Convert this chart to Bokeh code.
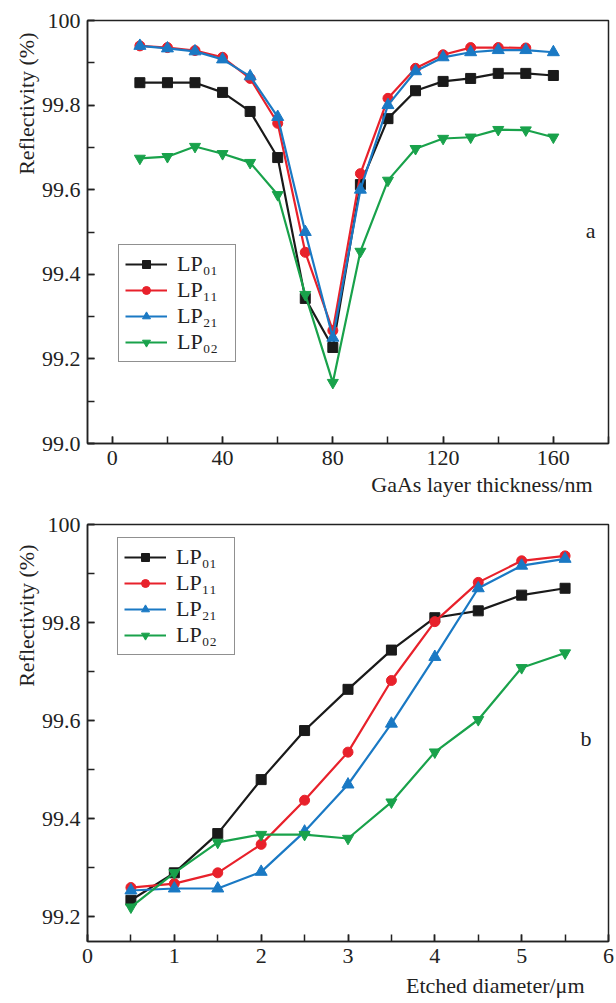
from bokeh.plotting import figure
from bokeh.layouts import column
from bokeh.models import SingleIntervalTicker, CustomJSTickFormatter, Title, Label
from bokeh.embed import file_html
from bokeh.resources import INLINE

# ---------------- data: panel a ----------------
thickness_nm = [10, 20, 30, 40, 50, 60, 70, 80, 90, 100, 110, 120, 130, 140, 150, 160]
a_lp01 = [99.853, 99.853, 99.853, 99.830, 99.785, 99.676, 99.343, 99.227, 99.612, 99.768,
          99.834, 99.856, 99.863, 99.875, 99.875, 99.870]
a_lp11 = [99.940, 99.936, 99.929, 99.913, 99.863, 99.757, 99.452, 99.267, 99.638, 99.816,
          99.887, 99.919, 99.936, 99.936, 99.935]
a_lp21 = [99.940, 99.934, 99.927, 99.908, 99.868, 99.772, 99.500, 99.250, 99.600, 99.800,
          99.880, 99.913, 99.925, 99.930, 99.930, 99.925]
a_lp02 = [99.674, 99.678, 99.702, 99.685, 99.664, 99.588, 99.352, 99.144, 99.454, 99.622,
          99.697, 99.721, 99.724, 99.742, 99.741, 99.724]

# ---------------- data: panel b ----------------
diameter_um = [0.5, 1.0, 1.5, 2.0, 2.5, 3.0, 3.5, 4.0, 4.5, 5.0, 5.5]
b_lp01 = [99.234, 99.290, 99.370, 99.480, 99.580, 99.664, 99.744, 99.810, 99.824, 99.856, 99.870]
b_lp11 = [99.260, 99.268, 99.290, 99.348, 99.438, 99.536, 99.682, 99.802, 99.882, 99.926, 99.936]
b_lp21 = [99.254, 99.258, 99.258, 99.292, 99.374, 99.470, 99.594, 99.730, 99.870, 99.916, 99.930]
b_lp02 = [99.220, 99.290, 99.352, 99.368, 99.368, 99.360, 99.434, 99.536, 99.602, 99.708, 99.738]

labels = ["LP\u2080\u2081", "LP\u2081\u2081", "LP\u2082\u2081", "LP\u2080\u2082"]
colors = ["#1a1a1a", "#e8212b", "#1a79c4", "#19a24b"]
markers = ["square", "circle", "triangle", "inverted_triangle"]
msizes = [10, 10, 12, 11]

FONT = "Liberation Serif"
INK = "#222222"


def style(p, xint, yint):
    p.grid.visible = False
    p.outline_line_color = INK
    p.outline_line_width = 1.5
    p.background_fill_color = "white"
    p.border_fill_color = "white"
    p.xaxis.ticker = SingleIntervalTicker(interval=xint, num_minor_ticks=2)
    p.yaxis.ticker = SingleIntervalTicker(interval=yint, num_minor_ticks=2)
    p.yaxis.formatter = CustomJSTickFormatter(
        code="return tick > 99.95 ? '100' : tick.toFixed(1);")
    for ax in (p.xaxis[0], p.yaxis[0]):
        ax.major_tick_in = 7
        ax.major_tick_out = 0
        ax.minor_tick_in = 7
        ax.minor_tick_out = 0
        ax.axis_line_color = INK
        ax.axis_line_width = 1.5
        ax.major_tick_line_color = INK
        ax.major_tick_line_width = 1.5
        ax.minor_tick_line_color = INK
        ax.minor_tick_line_width = 1.5
        ax.major_label_text_font = FONT
        ax.major_label_text_font_size = "22px"
        ax.major_label_text_color = INK
        ax.major_label_standoff = 7


def add_series(p, xs, series):
    for ys, lab, col, mk, ms in zip(series, labels, colors, markers, msizes):
        xx = xs[:len(ys)]
        p.line(xx, ys, line_color=col, line_width=2.2, legend_label=lab)
        p.scatter(xx, ys, marker=mk, size=ms, fill_color=col, line_color=col,
                  legend_label=lab)


def style_legend(p, loc):
    lg = p.legend[0]
    lg.location = loc
    lg.label_text_font = FONT
    lg.label_text_font_size = "22px"
    lg.label_text_color = INK
    lg.glyph_width = 42
    lg.glyph_height = 20
    lg.label_height = 20
    lg.label_width = 52
    lg.spacing = 0
    lg.padding = 6
    lg.margin = 0
    lg.label_standoff = 10
    lg.border_line_color = INK
    lg.border_line_width = 1.5
    lg.background_fill_alpha = 1.0


def add_labels(p, xlabel, yoff, xoff, xstand):
    p.add_layout(Title(text="Reflectivity (%)", align="right", text_font=FONT,
                       text_font_size="22px", text_font_style="normal",
                       text_color=INK, offset=yoff, standoff=0), "left")
    p.add_layout(Title(text=xlabel, align="right", text_font=FONT,
                       text_font_size="22px", text_font_style="normal",
                       text_color=INK, offset=xoff, standoff=xstand), "below")


# ---------------- panel a ----------------
p1 = figure(width=616, height=500, x_range=(-9, 180), y_range=(99.0, 100.0),
            min_border_left=87, min_border_right=8, min_border_top=20,
            min_border_bottom=57, output_backend="svg", toolbar_location=None)
style(p1, 40, 0.2)
add_series(p1, thickness_nm, [a_lp01, a_lp11, a_lp21, a_lp02])
style_legend(p1, (31, 81))
add_labels(p1, "GaAs layer thickness/nm", 12, 16, 5)
p1.add_layout(Label(x=173.5, y=99.504, text="a", text_font=FONT, text_font_size="22px",
                    text_color=INK, text_align="center", text_baseline="middle"))

# ---------------- panel b ----------------
p2 = figure(width=616, height=503, x_range=(0, 6), y_range=(99.15, 100.0),
            min_border_left=84, min_border_right=7, min_border_top=24,
            min_border_bottom=55, output_backend="svg", toolbar_location=None)
style(p2, 1, 0.2)
add_series(p2, diameter_um, [b_lp01, b_lp11, b_lp21, b_lp02])
style_legend(p2, (30, 286))
add_labels(p2, "Etched diameter/\u03bcm", 20, 24, 11)
p2.add_layout(Label(x=5.74, y=99.564, text="b", text_font=FONT, text_font_size="22px",
                    text_color=INK, text_align="center", text_baseline="middle"))

layout = column(p1, p2, spacing=0)
open("out.html", "w").write(file_html(layout, INLINE))
